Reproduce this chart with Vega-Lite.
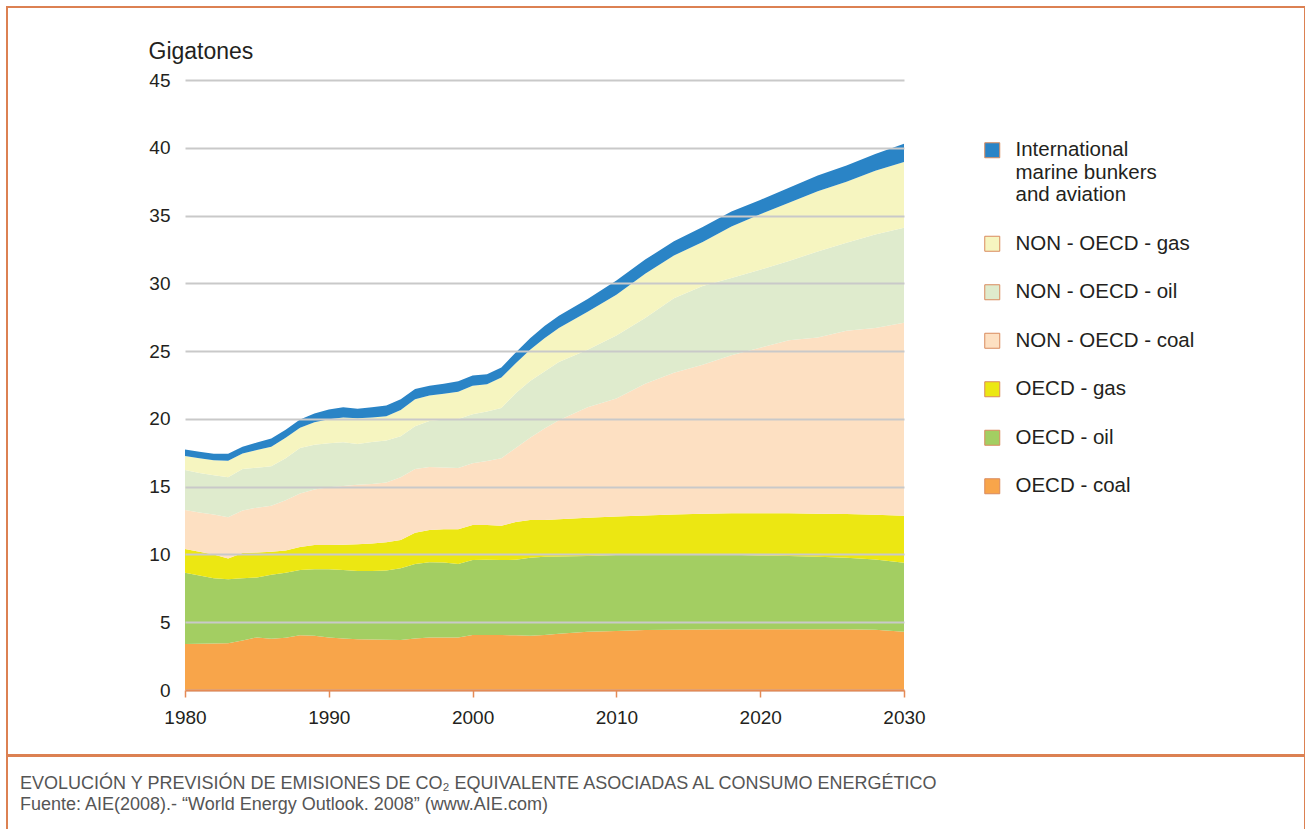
{
"$schema":"https://vega.github.io/schema/vega-lite/v6.json",
"padding":{"left":6,"top":6,"right":0,"bottom":0},
"autosize":{"type":"pad"},
"background":"white",
"config":{"font":"Liberation Sans","view":{"stroke":null}},
"spacing":-2,
"resolve":{"scale":{"color":"independent"},"legend":{"color":"independent"}},
"vconcat":[
{
"width":1298,"height":748,
"view":{"stroke":"#dc8152","strokeWidth":2},
"data":{"values":[
{"year":1980,"series":"OECD - coal","gt":3.40},{"year":1980,"series":"OECD - oil","gt":5.25},{"year":1980,"series":"OECD - gas","gt":1.75},{"year":1980,"series":"NON - OECD - coal","gt":2.88},{"year":1980,"series":"NON - OECD - oil","gt":2.95},{"year":1980,"series":"NON - OECD - gas","gt":1.03},{"year":1980,"series":"International marine bunkers and aviation","gt":0.49},
{"year":1981,"series":"OECD - coal","gt":3.42},{"year":1981,"series":"OECD - oil","gt":5.03},{"year":1981,"series":"OECD - gas","gt":1.75},{"year":1981,"series":"NON - OECD - coal","gt":2.90},{"year":1981,"series":"NON - OECD - oil","gt":2.90},{"year":1981,"series":"NON - OECD - gas","gt":1.10},{"year":1981,"series":"International marine bunkers and aviation","gt":0.48},
{"year":1982,"series":"OECD - coal","gt":3.43},{"year":1982,"series":"OECD - oil","gt":4.82},{"year":1982,"series":"OECD - gas","gt":1.75},{"year":1982,"series":"NON - OECD - coal","gt":2.95},{"year":1982,"series":"NON - OECD - oil","gt":2.90},{"year":1982,"series":"NON - OECD - gas","gt":1.10},{"year":1982,"series":"International marine bunkers and aviation","gt":0.47},
{"year":1983,"series":"OECD - coal","gt":3.44},{"year":1983,"series":"OECD - oil","gt":4.73},{"year":1983,"series":"OECD - gas","gt":1.53},{"year":1983,"series":"NON - OECD - coal","gt":3.05},{"year":1983,"series":"NON - OECD - oil","gt":2.95},{"year":1983,"series":"NON - OECD - gas","gt":1.22},{"year":1983,"series":"International marine bunkers and aviation","gt":0.50},
{"year":1984,"series":"OECD - coal","gt":3.65},{"year":1984,"series":"OECD - oil","gt":4.60},{"year":1984,"series":"OECD - gas","gt":1.85},{"year":1984,"series":"NON - OECD - coal","gt":3.15},{"year":1984,"series":"NON - OECD - oil","gt":3.05},{"year":1984,"series":"NON - OECD - gas","gt":1.15},{"year":1984,"series":"International marine bunkers and aviation","gt":0.50},
{"year":1985,"series":"OECD - coal","gt":3.88},{"year":1985,"series":"OECD - oil","gt":4.42},{"year":1985,"series":"OECD - gas","gt":1.85},{"year":1985,"series":"NON - OECD - coal","gt":3.30},{"year":1985,"series":"NON - OECD - oil","gt":2.95},{"year":1985,"series":"NON - OECD - gas","gt":1.30},{"year":1985,"series":"International marine bunkers and aviation","gt":0.55},
{"year":1986,"series":"OECD - coal","gt":3.78},{"year":1986,"series":"OECD - oil","gt":4.72},{"year":1986,"series":"OECD - gas","gt":1.70},{"year":1986,"series":"NON - OECD - coal","gt":3.40},{"year":1986,"series":"NON - OECD - oil","gt":2.90},{"year":1986,"series":"NON - OECD - gas","gt":1.45},{"year":1986,"series":"International marine bunkers and aviation","gt":0.60},
{"year":1987,"series":"OECD - coal","gt":3.85},{"year":1987,"series":"OECD - oil","gt":4.80},{"year":1987,"series":"OECD - gas","gt":1.65},{"year":1987,"series":"NON - OECD - coal","gt":3.70},{"year":1987,"series":"NON - OECD - oil","gt":3.10},{"year":1987,"series":"NON - OECD - gas","gt":1.50},{"year":1987,"series":"International marine bunkers and aviation","gt":0.60},
{"year":1988,"series":"OECD - coal","gt":4.03},{"year":1988,"series":"OECD - oil","gt":4.82},{"year":1988,"series":"OECD - gas","gt":1.70},{"year":1988,"series":"NON - OECD - coal","gt":3.95},{"year":1988,"series":"NON - OECD - oil","gt":3.35},{"year":1988,"series":"NON - OECD - gas","gt":1.50},{"year":1988,"series":"International marine bunkers and aviation","gt":0.60},
{"year":1989,"series":"OECD - coal","gt":4.00},{"year":1989,"series":"OECD - oil","gt":4.90},{"year":1989,"series":"OECD - gas","gt":1.80},{"year":1989,"series":"NON - OECD - coal","gt":4.10},{"year":1989,"series":"NON - OECD - oil","gt":3.30},{"year":1989,"series":"NON - OECD - gas","gt":1.65},{"year":1989,"series":"International marine bunkers and aviation","gt":0.65},
{"year":1990,"series":"OECD - coal","gt":3.88},{"year":1990,"series":"OECD - oil","gt":5.02},{"year":1990,"series":"OECD - gas","gt":1.80},{"year":1990,"series":"NON - OECD - coal","gt":4.25},{"year":1990,"series":"NON - OECD - oil","gt":3.25},{"year":1990,"series":"NON - OECD - gas","gt":1.78},{"year":1990,"series":"International marine bunkers and aviation","gt":0.72},
{"year":1991,"series":"OECD - coal","gt":3.80},{"year":1991,"series":"OECD - oil","gt":5.05},{"year":1991,"series":"OECD - gas","gt":1.87},{"year":1991,"series":"NON - OECD - coal","gt":4.33},{"year":1991,"series":"NON - OECD - oil","gt":3.22},{"year":1991,"series":"NON - OECD - gas","gt":1.83},{"year":1991,"series":"International marine bunkers and aviation","gt":0.75},
{"year":1992,"series":"OECD - coal","gt":3.74},{"year":1992,"series":"OECD - oil","gt":5.04},{"year":1992,"series":"OECD - gas","gt":1.97},{"year":1992,"series":"NON - OECD - coal","gt":4.40},{"year":1992,"series":"NON - OECD - oil","gt":3.00},{"year":1992,"series":"NON - OECD - gas","gt":1.89},{"year":1992,"series":"International marine bunkers and aviation","gt":0.71},
{"year":1993,"series":"OECD - coal","gt":3.72},{"year":1993,"series":"OECD - oil","gt":5.06},{"year":1993,"series":"OECD - gas","gt":2.02},{"year":1993,"series":"NON - OECD - coal","gt":4.40},{"year":1993,"series":"NON - OECD - oil","gt":3.10},{"year":1993,"series":"NON - OECD - gas","gt":1.80},{"year":1993,"series":"International marine bunkers and aviation","gt":0.75},
{"year":1994,"series":"OECD - coal","gt":3.70},{"year":1994,"series":"OECD - oil","gt":5.12},{"year":1994,"series":"OECD - gas","gt":2.08},{"year":1994,"series":"NON - OECD - coal","gt":4.40},{"year":1994,"series":"NON - OECD - oil","gt":3.10},{"year":1994,"series":"NON - OECD - gas","gt":1.80},{"year":1994,"series":"International marine bunkers and aviation","gt":0.78},
{"year":1995,"series":"OECD - coal","gt":3.69},{"year":1995,"series":"OECD - oil","gt":5.29},{"year":1995,"series":"OECD - gas","gt":2.09},{"year":1995,"series":"NON - OECD - coal","gt":4.62},{"year":1995,"series":"NON - OECD - oil","gt":3.03},{"year":1995,"series":"NON - OECD - gas","gt":1.93},{"year":1995,"series":"International marine bunkers and aviation","gt":0.80},
{"year":1996,"series":"OECD - coal","gt":3.80},{"year":1996,"series":"OECD - oil","gt":5.50},{"year":1996,"series":"OECD - gas","gt":2.30},{"year":1996,"series":"NON - OECD - coal","gt":4.70},{"year":1996,"series":"NON - OECD - oil","gt":3.15},{"year":1996,"series":"NON - OECD - gas","gt":2.00},{"year":1996,"series":"International marine bunkers and aviation","gt":0.75},
{"year":1997,"series":"OECD - coal","gt":3.88},{"year":1997,"series":"OECD - oil","gt":5.54},{"year":1997,"series":"OECD - gas","gt":2.38},{"year":1997,"series":"NON - OECD - coal","gt":4.65},{"year":1997,"series":"NON - OECD - oil","gt":3.40},{"year":1997,"series":"NON - OECD - gas","gt":1.87},{"year":1997,"series":"International marine bunkers and aviation","gt":0.73},
{"year":1998,"series":"OECD - coal","gt":3.88},{"year":1998,"series":"OECD - oil","gt":5.52},{"year":1998,"series":"OECD - gas","gt":2.45},{"year":1998,"series":"NON - OECD - coal","gt":4.57},{"year":1998,"series":"NON - OECD - oil","gt":3.53},{"year":1998,"series":"NON - OECD - gas","gt":1.90},{"year":1998,"series":"International marine bunkers and aviation","gt":0.75},
{"year":1999,"series":"OECD - coal","gt":3.88},{"year":1999,"series":"OECD - oil","gt":5.42},{"year":1999,"series":"OECD - gas","gt":2.55},{"year":1999,"series":"NON - OECD - coal","gt":4.53},{"year":1999,"series":"NON - OECD - oil","gt":3.62},{"year":1999,"series":"NON - OECD - gas","gt":2.00},{"year":1999,"series":"International marine bunkers and aviation","gt":0.78},
{"year":2000,"series":"OECD - coal","gt":4.05},{"year":2000,"series":"OECD - oil","gt":5.54},{"year":2000,"series":"OECD - gas","gt":2.58},{"year":2000,"series":"NON - OECD - coal","gt":4.55},{"year":2000,"series":"NON - OECD - oil","gt":3.63},{"year":2000,"series":"NON - OECD - gas","gt":2.10},{"year":2000,"series":"International marine bunkers and aviation","gt":0.75},
{"year":2001,"series":"OECD - coal","gt":4.05},{"year":2001,"series":"OECD - oil","gt":5.55},{"year":2001,"series":"OECD - gas","gt":2.57},{"year":2001,"series":"NON - OECD - coal","gt":4.73},{"year":2001,"series":"NON - OECD - oil","gt":3.65},{"year":2001,"series":"NON - OECD - gas","gt":2.00},{"year":2001,"series":"International marine bunkers and aviation","gt":0.75},
{"year":2002,"series":"OECD - coal","gt":4.05},{"year":2002,"series":"OECD - oil","gt":5.54},{"year":2002,"series":"OECD - gas","gt":2.53},{"year":2002,"series":"NON - OECD - coal","gt":4.98},{"year":2002,"series":"NON - OECD - oil","gt":3.70},{"year":2002,"series":"NON - OECD - gas","gt":2.25},{"year":2002,"series":"International marine bunkers and aviation","gt":0.75},
{"year":2003,"series":"OECD - coal","gt":4.03},{"year":2003,"series":"OECD - oil","gt":5.57},{"year":2003,"series":"OECD - gas","gt":2.80},{"year":2003,"series":"NON - OECD - coal","gt":5.45},{"year":2003,"series":"NON - OECD - oil","gt":4.05},{"year":2003,"series":"NON - OECD - gas","gt":2.20},{"year":2003,"series":"International marine bunkers and aviation","gt":0.80},
{"year":2004,"series":"OECD - coal","gt":4.00},{"year":2004,"series":"OECD - oil","gt":5.75},{"year":2004,"series":"OECD - gas","gt":2.79},{"year":2004,"series":"NON - OECD - coal","gt":6.06},{"year":2004,"series":"NON - OECD - oil","gt":4.20},{"year":2004,"series":"NON - OECD - gas","gt":2.30},{"year":2004,"series":"International marine bunkers and aviation","gt":0.85},
{"year":2005,"series":"OECD - coal","gt":4.06},{"year":2005,"series":"OECD - oil","gt":5.77},{"year":2005,"series":"OECD - gas","gt":2.72},{"year":2005,"series":"NON - OECD - coal","gt":6.75},{"year":2005,"series":"NON - OECD - oil","gt":4.20},{"year":2005,"series":"NON - OECD - gas","gt":2.45},{"year":2005,"series":"International marine bunkers and aviation","gt":0.90},
{"year":2006,"series":"OECD - coal","gt":4.15},{"year":2006,"series":"OECD - oil","gt":5.70},{"year":2006,"series":"OECD - gas","gt":2.74},{"year":2006,"series":"NON - OECD - coal","gt":7.31},{"year":2006,"series":"NON - OECD - oil","gt":4.30},{"year":2006,"series":"NON - OECD - gas","gt":2.50},{"year":2006,"series":"International marine bunkers and aviation","gt":0.90},
{"year":2008,"series":"OECD - coal","gt":4.30},{"year":2008,"series":"OECD - oil","gt":5.58},{"year":2008,"series":"OECD - gas","gt":2.82},{"year":2008,"series":"NON - OECD - coal","gt":8.15},{"year":2008,"series":"NON - OECD - oil","gt":4.25},{"year":2008,"series":"NON - OECD - gas","gt":2.80},{"year":2008,"series":"International marine bunkers and aviation","gt":0.95},
{"year":2010,"series":"OECD - coal","gt":4.35},{"year":2010,"series":"OECD - oil","gt":5.60},{"year":2010,"series":"OECD - gas","gt":2.85},{"year":2010,"series":"NON - OECD - coal","gt":8.70},{"year":2010,"series":"NON - OECD - oil","gt":4.65},{"year":2010,"series":"NON - OECD - gas","gt":3.00},{"year":2010,"series":"International marine bunkers and aviation","gt":1.05},
{"year":2012,"series":"OECD - coal","gt":4.43},{"year":2012,"series":"OECD - oil","gt":5.57},{"year":2012,"series":"OECD - gas","gt":2.88},{"year":2012,"series":"NON - OECD - coal","gt":9.72},{"year":2012,"series":"NON - OECD - oil","gt":4.85},{"year":2012,"series":"NON - OECD - gas","gt":3.25},{"year":2012,"series":"International marine bunkers and aviation","gt":1.05},
{"year":2014,"series":"OECD - coal","gt":4.45},{"year":2014,"series":"OECD - oil","gt":5.58},{"year":2014,"series":"OECD - gas","gt":2.92},{"year":2014,"series":"NON - OECD - coal","gt":10.45},{"year":2014,"series":"NON - OECD - oil","gt":5.50},{"year":2014,"series":"NON - OECD - gas","gt":3.15},{"year":2014,"series":"International marine bunkers and aviation","gt":1.05},
{"year":2016,"series":"OECD - coal","gt":4.47},{"year":2016,"series":"OECD - oil","gt":5.53},{"year":2016,"series":"OECD - gas","gt":3.00},{"year":2016,"series":"NON - OECD - coal","gt":11.00},{"year":2016,"series":"NON - OECD - oil","gt":5.80},{"year":2016,"series":"NON - OECD - gas","gt":3.25},{"year":2016,"series":"International marine bunkers and aviation","gt":1.10},
{"year":2018,"series":"OECD - coal","gt":4.48},{"year":2018,"series":"OECD - oil","gt":5.49},{"year":2018,"series":"OECD - gas","gt":3.06},{"year":2018,"series":"NON - OECD - coal","gt":11.67},{"year":2018,"series":"NON - OECD - oil","gt":5.70},{"year":2018,"series":"NON - OECD - gas","gt":3.80},{"year":2018,"series":"International marine bunkers and aviation","gt":1.10},
{"year":2020,"series":"OECD - coal","gt":4.48},{"year":2020,"series":"OECD - oil","gt":5.45},{"year":2020,"series":"OECD - gas","gt":3.10},{"year":2020,"series":"NON - OECD - coal","gt":12.22},{"year":2020,"series":"NON - OECD - oil","gt":5.75},{"year":2020,"series":"NON - OECD - gas","gt":4.10},{"year":2020,"series":"International marine bunkers and aviation","gt":1.05},
{"year":2022,"series":"OECD - coal","gt":4.48},{"year":2022,"series":"OECD - oil","gt":5.40},{"year":2022,"series":"OECD - gas","gt":3.15},{"year":2022,"series":"NON - OECD - coal","gt":12.77},{"year":2022,"series":"NON - OECD - oil","gt":5.85},{"year":2022,"series":"NON - OECD - gas","gt":4.30},{"year":2022,"series":"International marine bunkers and aviation","gt":1.10},
{"year":2024,"series":"OECD - coal","gt":4.48},{"year":2024,"series":"OECD - oil","gt":5.35},{"year":2024,"series":"OECD - gas","gt":3.17},{"year":2024,"series":"NON - OECD - coal","gt":13.00},{"year":2024,"series":"NON - OECD - oil","gt":6.35},{"year":2024,"series":"NON - OECD - gas","gt":4.45},{"year":2024,"series":"International marine bunkers and aviation","gt":1.15},
{"year":2026,"series":"OECD - coal","gt":4.48},{"year":2026,"series":"OECD - oil","gt":5.27},{"year":2026,"series":"OECD - gas","gt":3.23},{"year":2026,"series":"NON - OECD - coal","gt":13.52},{"year":2026,"series":"NON - OECD - oil","gt":6.50},{"year":2026,"series":"NON - OECD - gas","gt":4.50},{"year":2026,"series":"International marine bunkers and aviation","gt":1.20},
{"year":2028,"series":"OECD - coal","gt":4.45},{"year":2028,"series":"OECD - oil","gt":5.17},{"year":2028,"series":"OECD - gas","gt":3.31},{"year":2028,"series":"NON - OECD - coal","gt":13.77},{"year":2028,"series":"NON - OECD - oil","gt":6.90},{"year":2028,"series":"NON - OECD - gas","gt":4.70},{"year":2028,"series":"International marine bunkers and aviation","gt":1.25},
{"year":2030,"series":"OECD - coal","gt":4.30},{"year":2030,"series":"OECD - oil","gt":5.09},{"year":2030,"series":"OECD - gas","gt":3.47},{"year":2030,"series":"NON - OECD - coal","gt":14.24},{"year":2030,"series":"NON - OECD - oil","gt":7.00},{"year":2030,"series":"NON - OECD - gas","gt":4.85},{"year":2030,"series":"International marine bunkers and aviation","gt":1.35}
]},
"transform":[{"lookup":"series","from":{"data":{"values":[
{"series":"OECD - coal","rank":1},{"series":"OECD - oil","rank":2},{"series":"OECD - gas","rank":3},{"series":"NON - OECD - coal","rank":4},{"series":"NON - OECD - oil","rank":5},{"series":"NON - OECD - gas","rank":6},{"series":"International marine bunkers and aviation","rank":7}
]},"key":"series","fields":["rank"]}}],
"mark":{"type":"area","opacity":1,"interpolate":"linear"},
"encoding":{
"x":{"field":"year","type":"quantitative","scale":{"domain":[1980,2030],"nice":false,"zero":false,"range":[178,897]},
"axis":{"values":[1980,1990,2000,2010,2020,2030],"format":"d","title":null,"grid":false,"offset":-65,"domainColor":"#e58a55","domainWidth":2,"tickColor":"#e58a55","tickWidth":1.5,"tickSize":7,"labelFont":"Liberation Sans","labelFontSize":19,"labelColor":"#231f20","labelPadding":11,"labelFlush":false,"zindex":2}},
"y":{"field":"gt","type":"quantitative","stack":"zero","scale":{"domain":[0,45],"nice":false,"range":[683,73]},
"axis":{"values":[0,5,10,15,20,25,30,35,40,45],"offset":-178,"title":"Gigatones","titleFont":"Liberation Sans","titleAngle":0,"titleAlign":"left","titleBaseline":"alphabetic","titleX":-37,"titleY":51,"titleFontSize":23,"titleFontWeight":"normal","titleColor":"#231f20","domain":false,"ticks":false,"grid":true,"gridColor":"#c9c9c9","gridWidth":2,"labelFont":"Liberation Sans","labelFontSize":19,"labelColor":"#231f20","labelPadding":15,"zindex":1}},
"order":{"field":"rank","type":"quantitative","sort":"ascending"},
"color":{"field":"series","type":"nominal",
"sort":["International marine bunkers and aviation","NON - OECD - gas","NON - OECD - oil","NON - OECD - coal","OECD - gas","OECD - oil","OECD - coal"],
"scale":{"domain":["International marine bunkers and aviation","NON - OECD - gas","NON - OECD - oil","NON - OECD - coal","OECD - gas","OECD - oil","OECD - coal"],"range":["#2a84c6","#f6f5c0","#dfebcd","#fde0c2","#ece712","#a3ce62","#f8a54a"]},
"legend":{"title":null,"orient":"none","legendX":975,"legendY":133,"padding":0,"symbolType":"square","symbolSize":225,"symbolStrokeColor":"#d98a5e","symbolStrokeWidth":1,"symbolOpacity":1,"labelFont":"Liberation Sans","labelFontSize":20.5,"labelColor":"#231f20","labelOffset":13,"rowPadding":27.5,"labelLimit":400,
"labelExpr":"datum.label == 'International marine bunkers and aviation' ? ['International','marine bunkers','and aviation'] : datum.label"}}
}
},
{
"width":1298,"height":110,
"view":{"stroke":"#dc8152","strokeWidth":2},
"data":{"values":[{}]},
"mark":{"type":"text"},
"encoding":{"text":{"value":""}},
"title":{"text":"EVOLUCIÓN Y PREVISIÓN DE EMISIONES DE CO₂ EQUIVALENTE ASOCIADAS AL CONSUMO ENERGÉTICO","subtitle":"Fuente: AIE(2008).- “World Energy Outlook. 2008” (www.AIE.com)","anchor":"start","orient":"top","frame":"group","offset":-58,"dx":13,"font":"Liberation Sans","subtitleFont":"Liberation Sans","fontSize":18,"subtitleFontSize":18,"fontWeight":"normal","color":"#555555","subtitleColor":"#555555","subtitlePadding":3}
}
]
}
